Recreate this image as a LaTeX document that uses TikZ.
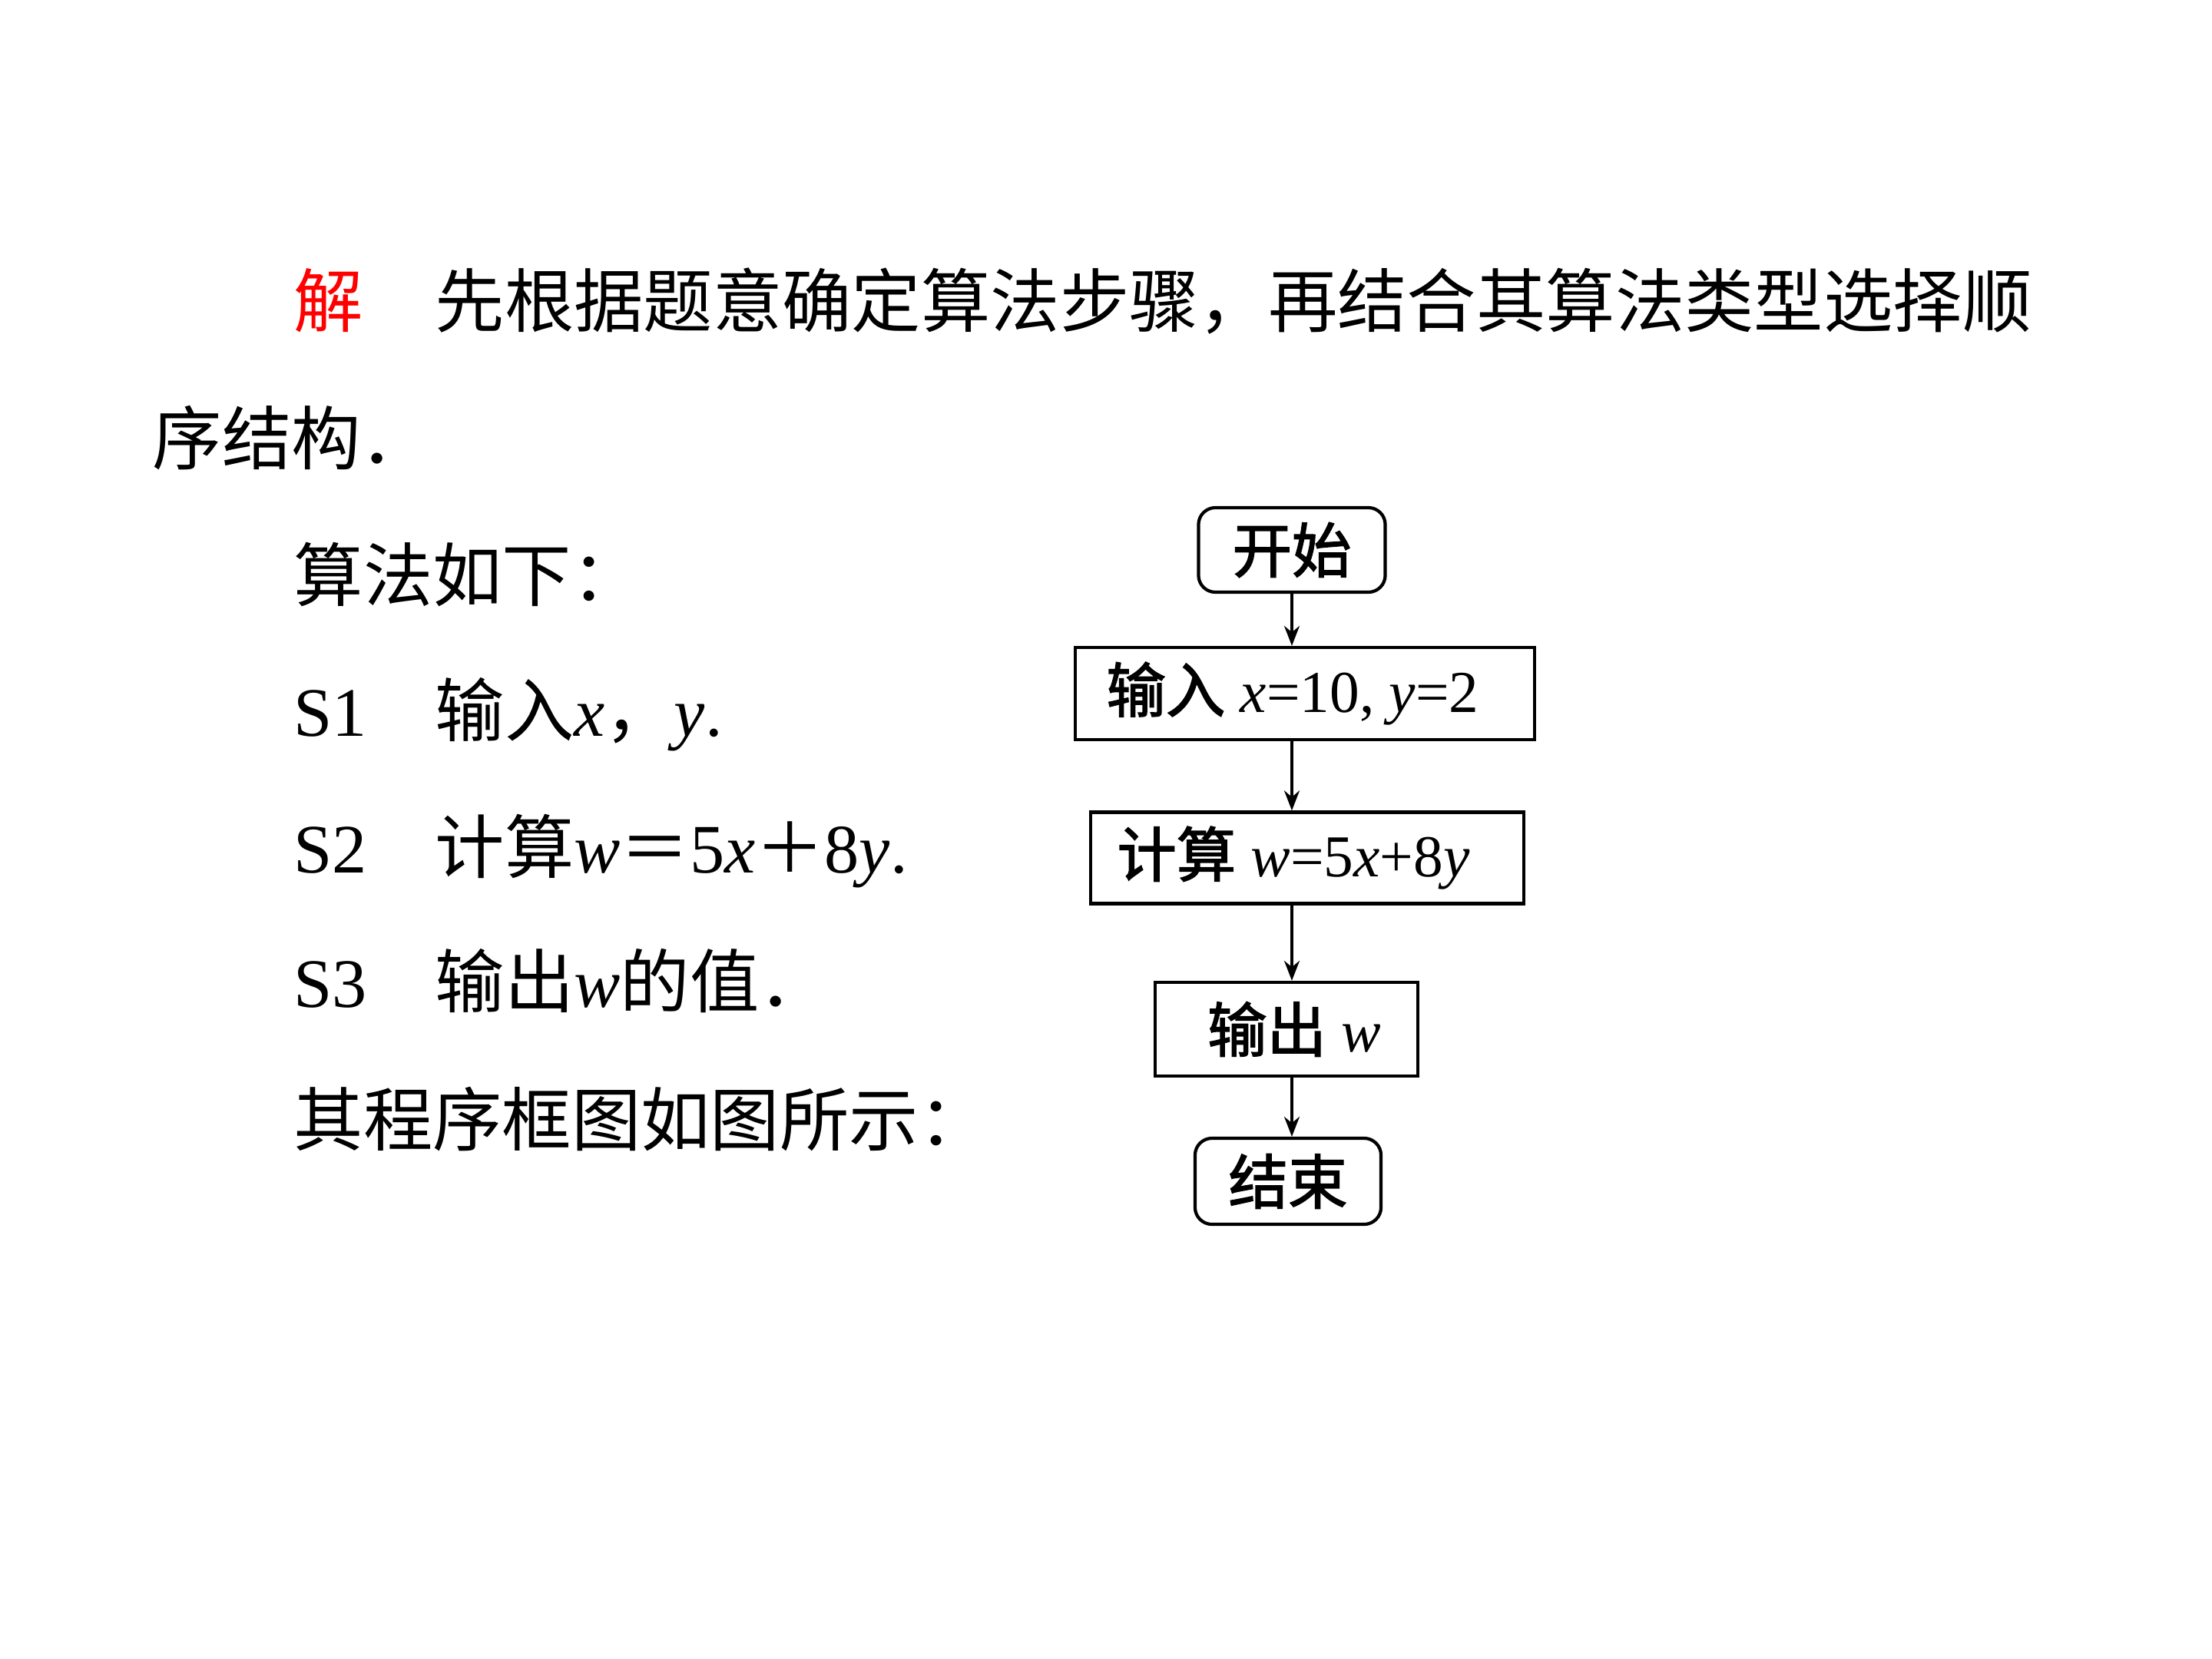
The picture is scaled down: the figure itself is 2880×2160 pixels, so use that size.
\documentclass[tikz,border=0pt]{standalone}
\usepackage{fontspec}
\setmainfont{Liberation Serif}
\newfontfamily\cjk{Noto Sans CJK SC}
\newfontfamily\cjkb[FakeBold=2]{Noto Sans CJK SC}
\usetikzlibrary{arrows.meta}
\definecolor{solred}{RGB}{255,0,0}
\tikzset{
  body/.style={anchor=base west, inner sep=0pt, font=\fontsize{25.7pt}{30pt}\selectfont},
  box/.style={draw, line width=1.2pt, inner sep=0pt, font=\fontsize{22pt}{26pt}\selectfont},
  term/.style={box, rounded corners=0.22cm},
  flow/.style={line width=1pt, -{Stealth[length=0.26cm, width=0.2cm]}}
}
\begin{document}
\begin{tikzpicture}[x=0.01cm, y=-0.01cm]
\useasboundingbox (0,0) rectangle (2880,2160);
% text
\node[body, text=solred] (jie) at (382,425) {\cjk 解};
\node[body] (l1) at (566,425) {\cjk 先根据题意确定算法步骤，再结合其算法类型选择顺};
\node[body] (l2) at (198,604) {\cjk 序结构．};
\node[body] (alg) at (382,782) {\cjk 算法如下：};
\node[body] (s1) at (382,958) {S1};
\node[body] (s1t) at (566,958) {{\cjk 输入}\textit{x}{\cjk ，}\textit{y}.};
\node[body] (s2) at (382,1136) {S2};
\node[body] (s2t) at (566,1136) {{\cjk 计算}\textit{w}{\cjk ＝}5\textit{x}{\cjk ＋}8\textit{y}.};
\node[body] (s3) at (382,1311) {S3};
\node[body] (s3t) at (566,1311) {{\cjk 输出}\textit{w}{\cjk 的值．}};
\node[body] (fig) at (382,1491) {\cjk 其程序框图如图所示：};
% flowchart
\node[term, minimum width=2.43cm, minimum height=1.10cm] (start) at (1682,716) {\cjkb 开始};
\node[box, minimum width=5.98cm, minimum height=1.20cm] (in) at (1699,903) {{\cjkb 输入} \textit{x}=10, \textit{y}=2\hspace*{0.32cm}};
\node[box, minimum width=5.64cm, minimum height=1.19cm] (calc) at (1702,1117) {{\cjkb 计算} \textit{w}=5\textit{x}+8\textit{y}\hspace*{0.36cm}};
\node[box, minimum width=3.42cm, minimum height=1.22cm] (out) at (1675,1340) {\hspace*{0.2cm}{\cjkb 输出} \textit{w}};
\node[term, minimum width=2.42cm, minimum height=1.12cm] (end) at (1677,1538) {\cjkb 结束};
\draw[flow] (start.south) -- (start.south |- in.north);
\draw[flow] (start.south |- in.south) -- (start.south |- calc.north);
\draw[flow] (start.south |- calc.south) -- (start.south |- out.north);
\draw[flow] (start.south |- out.south) -- (start.south |- end.north);
\end{tikzpicture}
\end{document}
